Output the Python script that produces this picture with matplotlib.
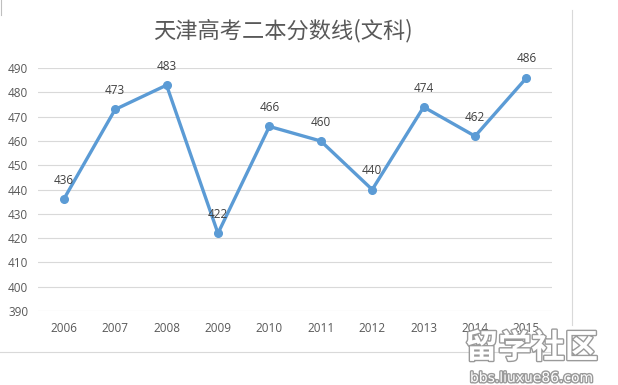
import matplotlib
matplotlib.use("Agg")
import matplotlib.pyplot as plt
import matplotlib.patheffects as pe
from matplotlib.lines import Line2D

plt.rcParams['font.family'] = ['Noto Sans CJK SC', 'DejaVu Sans']

years = ["2006", "2007", "2008", "2009", "2010", "2011", "2012", "2013", "2014", "2015"]
scores = [436, 473, 483, 422, 466, 460, 440, 474, 462, 486]
yticks = list(range(390, 491, 10))

fig = plt.figure(figsize=(6.18, 3.85), dpi=100)
ax = fig.add_axes([0.0615, 0.192, 0.832, 0.631])

x = list(range(len(years)))
ax.plot(x, scores, color="#5B9BD5", lw=2.4, marker="o", ms=5.5, zorder=3)
for xi, v in zip(x, scores):
    ax.annotate(str(v), (xi, v), xytext=(0, 9), textcoords="offset points",
                ha="center", va="bottom", fontsize=8.5, color="#404040",
                family=["Open Sans", "DejaVu Sans"])

ax.set_xlim(-0.5, len(years) - 0.5)
ax.set_ylim(390, 490)
ax.set_yticks(yticks)
ax.set_xticks(x)
ax.set_xticklabels(years)
ax.grid(axis="y", color="#D9D9D9", lw=0.8)
ax.set_axisbelow(True)
for s in ax.spines.values():
    s.set_visible(False)
ax.tick_params(axis="x", length=0, labelsize=8.5, colors="#595959", pad=8)
ax.tick_params(axis="y", length=0, labelsize=8.5, colors="#595959", pad=7)
for lab in ax.get_xticklabels() + ax.get_yticklabels():
    lab.set_family(["Open Sans", "DejaVu Sans"])

fig.text(0.458, 0.92, "天津高考二本分数线(文科)", ha="center", va="center",
         fontsize=16, color="#595959")

# chart border fragments from the screenshot
fig.add_artist(Line2D([0.926, 0.926], [0.155, 0.975], color="#D9D9D9", lw=0.8))
fig.add_artist(Line2D([0.0, 0.9], [0.086, 0.086], color="#D9D9D9", lw=0.8))
fig.add_artist(Line2D([0.002, 0.002], [0.96, 1.0], color="#BFBFBF", lw=0.8))

# watermark
fx = [pe.withStroke(linewidth=2, foreground="#9A9A9A")]
fig.text(0.86, 0.095, "留学社区", ha="center", va="center", fontsize=24,
         color="white", fontweight="bold", path_effects=fx)
fig.text(0.86, 0.018, "bbs.liuxue86.com", ha="center", va="center", fontsize=10,
         color="white", family=["DejaVu Sans"], path_effects=fx)

fig.savefig("out.png", dpi=100, facecolor="white")
